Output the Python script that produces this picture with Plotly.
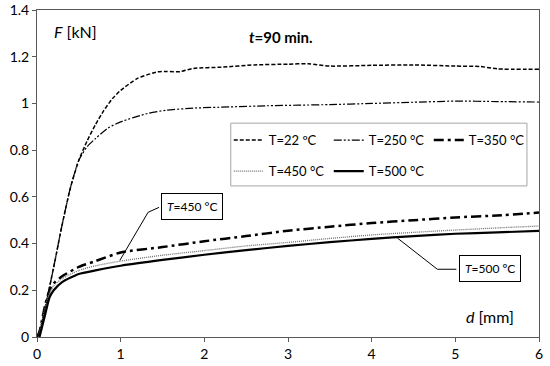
import plotly.graph_objects as go

# ---- data ----
d_22 = [0.0, 0.05, 0.1, 0.2, 0.3, 0.4, 0.5, 0.6, 0.7, 0.8, 0.9, 1.0, 1.2, 1.44, 1.55, 1.71, 1.87, 2.2, 2.6, 3.0, 3.24, 3.5, 4.0, 4.5, 5.0, 5.3, 5.5, 6.0]
F_22 = [0.0, 0.05, 0.13, 0.3, 0.48, 0.64, 0.757, 0.84, 0.91, 0.97, 1.02, 1.056, 1.107, 1.135, 1.137, 1.136, 1.15, 1.155, 1.165, 1.168, 1.17, 1.16, 1.163, 1.165, 1.16, 1.158, 1.148, 1.146]

d_250 = [0.0, 0.05, 0.1, 0.2, 0.3, 0.4, 0.5, 0.6, 0.7, 0.85, 1.0, 1.32, 1.55, 1.87, 2.3, 2.75, 3.5, 4.0, 4.5, 5.0, 5.5, 6.0]
F_250 = [0.0, 0.05, 0.13, 0.3, 0.48, 0.64, 0.757, 0.815, 0.85, 0.895, 0.921, 0.957, 0.971, 0.98, 0.985, 0.99, 0.995, 1.0, 1.005, 1.01, 1.008, 1.006]

d_350 = [0.02, 0.1, 0.15, 0.2, 0.3, 0.5, 0.7, 1.0, 1.5, 2.0, 2.5, 3.0, 3.5, 4.0, 4.5, 5.0, 5.5, 6.0]
F_350 = [0.0, 0.14, 0.2, 0.23, 0.26, 0.3, 0.325, 0.362, 0.385, 0.41, 0.432, 0.455, 0.472, 0.488, 0.5, 0.512, 0.52, 0.533]

d_450 = [0.02, 0.1, 0.15, 0.2, 0.3, 0.5, 0.7, 1.0, 1.5, 2.0, 2.5, 3.0, 3.5, 4.0, 4.5, 5.0, 5.5, 6.0]
F_450 = [0.0, 0.13, 0.19, 0.22, 0.25, 0.285, 0.305, 0.325, 0.35, 0.37, 0.39, 0.405, 0.422, 0.437, 0.448, 0.458, 0.467, 0.475]

d_500 = [0.03, 0.1, 0.15, 0.2, 0.3, 0.5, 0.7, 1.0, 1.5, 2.0, 2.5, 3.0, 3.5, 4.0, 4.5, 5.0, 5.5, 6.0]
F_500 = [0.0, 0.1, 0.17, 0.2, 0.235, 0.27, 0.285, 0.305, 0.33, 0.352, 0.372, 0.39, 0.406, 0.42, 0.432, 0.442, 0.448, 0.454]

series_names = ["T=22 \u00baC", "T=250 \u00b0C", "T=350 \u00b0C", "T=450 \u00b0C", "T=500 \u00b0C"]

x_ticks = [0, 1, 2, 3, 4, 5, 6]
y_ticks = [0, 0.2, 0.4, 0.6, 0.8, 1, 1.2, 1.4]
y_tick_labels = ["0", "0.2", "0.4", "0.6", "0.8", "1", "1.2", "1.4"]

FONT = "Lato, 'Open Sans', sans-serif"

fig = go.Figure()
styles = [
    dict(color="black", width=1.5, dash="4px,2px"),
    dict(color="black", width=1.2, dash="8px,2px,2px,2px,2px,2px"),
    dict(color="black", width=2.5, dash="10px,4px,3px,4px"),
    dict(color="#6e6e6e", width=1.3, dash="1px,1px"),
    dict(color="black", width=2.2),
]
legend_ids = ["legend", "legend", "legend", "legend2", "legend2"]
for (dx, fy), name, st, lg in zip([(d_22, F_22), (d_250, F_250), (d_350, F_350), (d_450, F_450), (d_500, F_500)],
                                  series_names, styles, legend_ids):
    fig.add_trace(go.Scatter(x=dx, y=fy, mode="lines", name=name, legend=lg,
                             line=dict(shape="spline", smoothing=0.6, **st)))

axis_col = "#595959"
fig.update_xaxes(range=[0, 6], tickvals=x_ticks, ticks="outside", ticklen=4, tickcolor=axis_col,
                 showline=True, linecolor=axis_col, linewidth=1, mirror=True, showgrid=False,
                 zeroline=False, automargin=False, tickfont=dict(size=14, color="black"))
fig.update_yaxes(range=[0, 1.4], tickvals=y_ticks, ticktext=y_tick_labels, ticks="outside", ticklen=4,
                 tickcolor=axis_col, showline=True, linecolor=axis_col, linewidth=1, mirror=True,
                 showgrid=False, zeroline=False, automargin=False, tickfont=dict(size=14, color="black"))

# legend frame
fig.add_shape(type="rect", xref="paper", yref="paper", x0=0.386, x1=0.976, y0=0.462, y1=0.654,
              line=dict(color="#a6a6a6", width=1), fillcolor="white", layer="below")

# leader lines for callouts
lead_450_x = [1.459, 1.328, 0.99]
lead_450_y = [0.555, 0.534, 0.328]
lead_500_x = [5.012, 4.785, 4.31]
lead_500_y = [0.29, 0.29, 0.423]
for lx, ly in [(lead_450_x, lead_450_y), (lead_500_x, lead_500_y)]:
    path = "M " + " L ".join(f"{a},{b}" for a, b in zip(lx, ly))
    fig.add_shape(type="path", path=path, xref="x", yref="y", line=dict(color="black", width=1))

fig.add_annotation(x=1.85, y=0.557, xref="x", yref="y", text="<i>T</i>=450 \u00b0C", showarrow=False,
                   bordercolor="black", borderwidth=1, borderpad=5, bgcolor="white",
                   font=dict(size=12, family=FONT, color="black"))
fig.add_annotation(x=5.42, y=0.292, xref="x", yref="y", text="<i>T</i>=500 \u00baC", showarrow=False,
                   bordercolor="black", borderwidth=1, borderpad=5, bgcolor="white",
                   font=dict(size=12, family=FONT, color="black"))

fig.add_annotation(x=0.03, y=0.935, xref="paper", yref="paper", xanchor="left", yanchor="middle",
                   text="<i>F</i> [kN]", showarrow=False, font=dict(size=16, family=FONT, color="black"))
fig.add_annotation(x=0.955, y=0.062, xref="paper", yref="paper", xanchor="right", yanchor="middle",
                   text="<i>d</i> [mm]", showarrow=False, font=dict(size=16, family=FONT, color="black"))
fig.add_annotation(x=0.487, y=0.917, xref="paper", yref="paper", xanchor="center", yanchor="middle",
                   text="<b><i>t</i>=90 min.</b>", showarrow=False, font=dict(size=15, family=FONT, color="black"))

leg_common = dict(orientation="h", xanchor="left", yanchor="middle", bgcolor="rgba(0,0,0,0)",
                  borderwidth=0, entrywidth=55, entrywidthmode="pixels", itemwidth=30,
                  font=dict(size=13, family=FONT, color="black"))
fig.update_layout(
    width=550, height=366,
    margin=dict(l=37, r=11, t=10, b=29, autoexpand=False),
    paper_bgcolor="white", plot_bgcolor="white",
    font=dict(family=FONT, size=14, color="black"),
    legend=dict(x=0.382, y=0.602, **leg_common),
    legend2=dict(x=0.382, y=0.507, **leg_common),
)

fig.write_html("out.html", config={"displayModeBar": False},
               post_script="document.body.style.margin='0';")
